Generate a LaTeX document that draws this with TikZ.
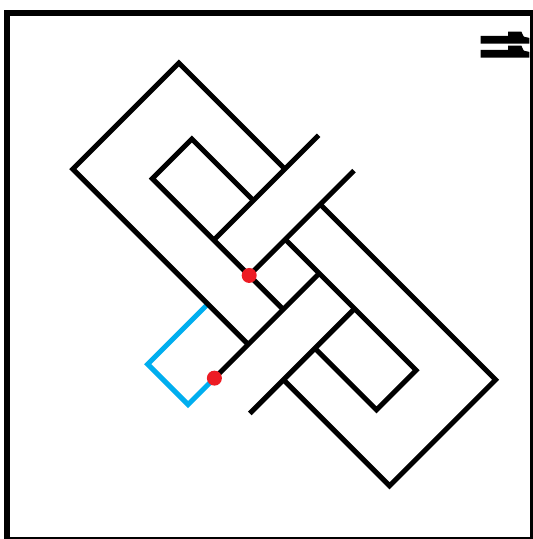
\documentclass[tikz,border=0pt]{standalone}
\usepackage{fontspec}
\newfontfamily\lblfont{TeX Gyre Heros}[BoldFeatures={FakeBold=16}]
\definecolor{cyanblue}{HTML}{00AEEF}
\definecolor{dotred}{HTML}{ED1C24}
\tikzset{
  band/.style={line width=5pt, draw=black, line join=miter},
  route/.style={line width=5pt, draw=cyanblue, line join=miter},
  reddot/.style={circle, fill=dotred, inner sep=0pt, minimum size=15pt},
  frame/.style={line width=6pt, draw=black}
}
\begin{document}
\begin{tikzpicture}[x=1pt,y=1pt]
\useasboundingbox (0,0) rectangle (533,539);
\fill[white] (0,0) rectangle (533,539);
\draw[frame] (7,526) rectangle (533,-1.5);
\node[rotate=-90, inner sep=0pt] (lbl) at (505,493) {\scalebox{0.45}[1]{\fontsize{56}{56}\selectfont\lblfont\bfseries 11}};
\begin{scope}[shift={(284.2,264.6)}, rotate=45]
  % blue route
  \draw[route] (-75,33) -- (-160,33) -- (-160,-24) -- (-122.7,-24);
  % loop A outer and inner
  \draw[band] (75,74) -- (75,224) -- (-75,224) -- (-75,-24);
  \draw[band] (30.5,74) -- (30.5,161) -- (-25.5,161) -- (-25.5,-24);
  % loop B outer and inner
  \draw[band] (-75,-74) -- (-75,-224) -- (75,-224) -- (75,24);
  \draw[band] (-30.5,-74) -- (-30.5,-161) -- (25.5,-161) -- (25.5,24);
  % crossing bars
  \draw[band] (-25.5,74) -- (122.7,74);
  \draw[band] (-25.5,24) -- (122.7,24);
  \draw[band] (-122.7,-24) -- (25.5,-24);
  \draw[band] (-122.7,-74) -- (25.5,-74);
  % red dots
  \node[reddot] (d1) at (-25.5,24) {};
  \node[reddot] (d2) at (-122.7,-24) {};
\end{scope}
\end{tikzpicture}
\end{document}
